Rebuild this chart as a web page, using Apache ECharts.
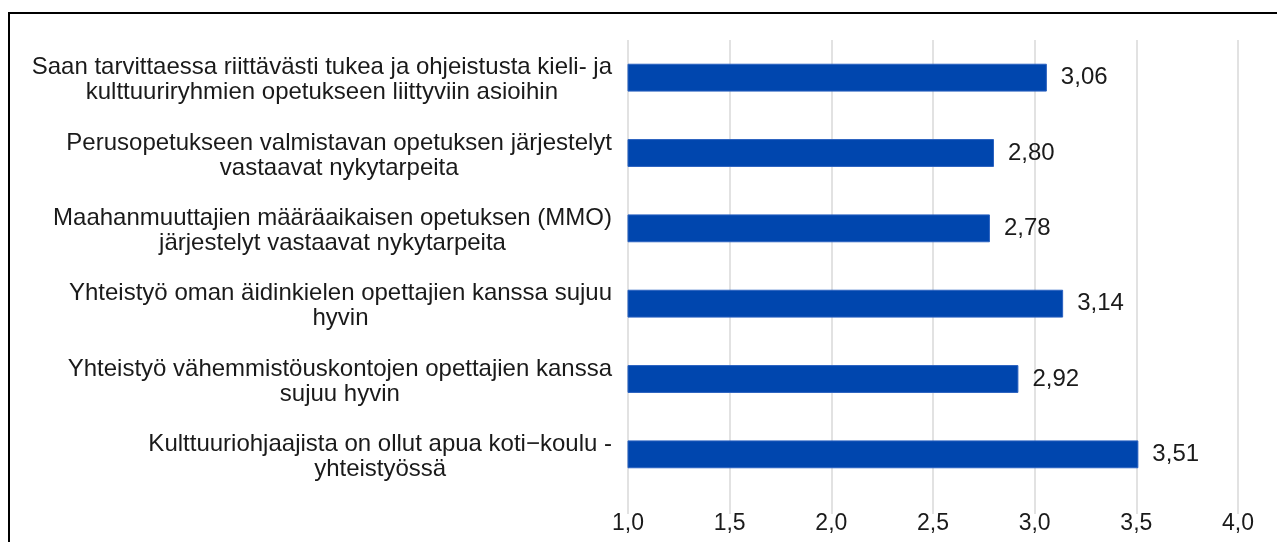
<!DOCTYPE html>
<html>
<head>
<meta charset="utf-8">
<script src="https://cdn.jsdelivr.net/npm/echarts@6/dist/echarts.min.js"></script>
<style>
	html, body { margin: 0; padding: 0; background: #fff; overflow: hidden; }
	#frame { position: absolute; left: 8px; top: 12px; width: 1400px; height: 700px; border: 2px solid #000; box-sizing: border-box; }
	#main { position: absolute; left: 0; top: 0; width: 1277px; height: 542px; }
</style>
</head>
<body>
<div id="frame"></div>
<div id="main"></div>
<script>
const categories = [
	'Saan tarvittaessa riittävästi tukea ja ohjeistusta kieli- ja\nkulttuuriryhmien opetukseen liittyviin asioihin',
	'Perusopetukseen valmistavan opetuksen järjestelyt\nvastaavat nykytarpeita',
	'Maahanmuuttajien määräaikaisen opetuksen (MMO)\njärjestelyt vastaavat nykytarpeita',
	'Yhteistyö oman äidinkielen opettajien kanssa sujuu\nhyvin',
	'Yhteistyö vähemmistöuskontojen opettajien kanssa\nsujuu hyvin',
	'Kulttuuriohjaajista on ollut apua koti−koulu -\nyhteistyössä'
];
const values = [3.06, 2.80, 2.78, 3.14, 2.92, 3.51];
const ticks = [1.0, 1.5, 2.0, 2.5, 3.0, 3.5, 4.0];

const fmt = (v, d) => v.toFixed(d).replace('.', ',');

let myChart = echarts.init(document.getElementById('main'));
let option = {
	animation: false,
	textStyle: { fontFamily: 'Liberation Sans, Arial, sans-serif' },
	grid: { left: 628, right: 39, top: 40, bottom: 50 },
	xAxis: {
		type: 'value',
		min: ticks[0],
		max: ticks[ticks.length - 1],
		interval: ticks[1] - ticks[0],
		axisLine: { show: false },
		axisTick: { show: true, length: 22, lineStyle: { color: '#d9d9d9', width: 1.5 } },
		splitLine: { lineStyle: { color: '#d9d9d9', width: 1.5 } },
		axisLabel: {
			margin: 20,
			fontSize: 23,
			color: '#1a1a1a',
			formatter: v => fmt(v, 1)
		}
	},
	yAxis: {
		type: 'category',
		inverse: true,
		data: categories,
		axisLine: { show: false },
		axisTick: { show: false },
		axisLabel: {
			margin: 16,
			padding: [5, 0, 0, 0],
			color: '#1a1a1a',
			formatter: v => v.split('\n').map(l => '{c|' + l + '}').join('\n'),
			rich: {
				c: { align: 'center', fontSize: 24, lineHeight: 25, color: '#1a1a1a' }
			}
		}
	},
	series: [{
		type: 'bar',
		data: values,
		barWidth: '37%',
		itemStyle: { color: '#0046ae', borderColor: '#2a62c0', borderWidth: 1 },
		label: {
			show: true,
			position: 'right',
			distance: 14,
			fontSize: 24,
			color: '#1a1a1a',
			formatter: p => fmt(p.value, 2)
		}
	}]
};
myChart.setOption(option);
</script>
</body>
</html>
